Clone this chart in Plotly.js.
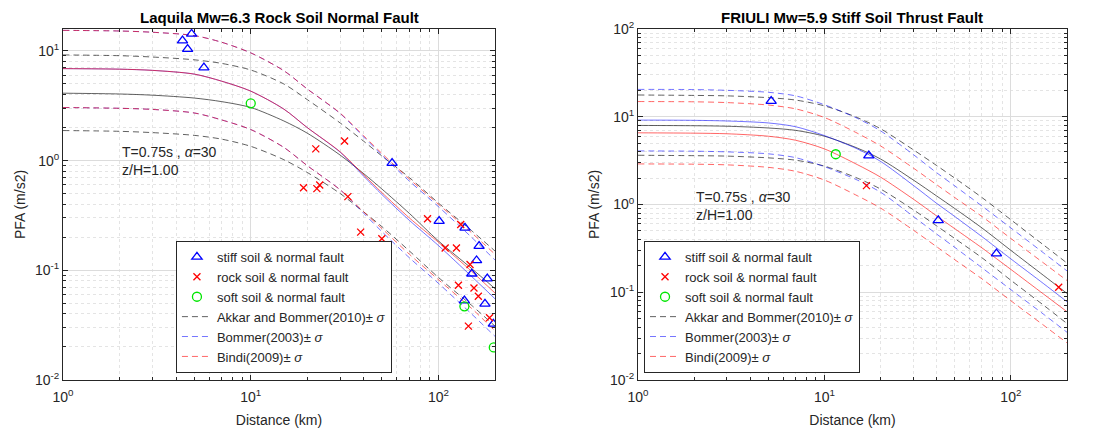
<!DOCTYPE html>
<html>
<head>
<meta charset="utf-8">
<script src="https://cdn.plot.ly/plotly-3.0.1.min.js"></script>
<style>
html,body{margin:0;padding:0;background:#fff;}
#chart{width:1094px;height:434px;}
</style>
</head>
<body>
<div id="chart"></div>
<script>
// ---------- shared ----------
const distance = [1, 2, 3, 5, 7, 10, 15, 20, 30, 40, 50, 70, 100, 150, 200];
const tickValues = [0.01, 0.1, 1, 10, 100];
const tickLabels = ['10<sup>-2</sup>', '10<sup>-1</sup>', '10<sup>0</sup>', '10<sup>1</sup>', '10<sup>2</sup>'];
const legendNames = ['stiff soil & normal fault', 'rock soil & normal fault', 'soft soil & normal fault',
  'Akkar and Bommer(2010)± <i>σ</i>', 'Bommer(2003)± <i>σ</i>', 'Bindi(2009)± <i>σ</i>'];
const titles = ['Laquila Mw=6.3 Rock Soil Normal Fault', 'FRIULI Mw=5.9 Stiff Soil Thrust Fault'];
const noteLine1 = 'T=0.75s , <i>α</i>=30';
const noteLine2 = 'z/H=1.00';

// ---------- Laquila (left) ----------
const aqAkkar      = [4.12, 4.05, 3.95, 3.72, 3.45, 3.05, 2.3, 1.78, 1.12, 0.76, 0.55, 0.33, 0.185, 0.104, 0.068];
const aqAkkarUp    = [9.2, 9.05, 8.8, 8.3, 7.7, 6.7, 5.0, 3.6, 2.2, 1.5, 1.1, 0.7, 0.41, 0.23, 0.15];
const aqAkkarLo    = [1.88, 1.85, 1.8, 1.7, 1.57, 1.35, 1.02, 0.78, 0.5, 0.34, 0.25, 0.15, 0.086, 0.048, 0.031];
const aqBommer     = [6.9, 6.82, 6.65, 6.15, 5.3, 4.3, 2.95, 2.0, 1.19, 0.72, 0.49, 0.285, 0.168, 0.088, 0.055];
const aqBommerUp   = [15.4, 15.2, 14.8, 13.8, 12.0, 9.6, 6.6, 4.5, 2.68, 1.64, 1.12, 0.65, 0.38, 0.2, 0.124];
const aqBommerLo   = [3.05, 3.0, 2.93, 2.72, 2.35, 1.92, 1.32, 0.9, 0.54, 0.33, 0.225, 0.13, 0.076, 0.04, 0.025];
const aqBindi      = [6.9, 6.82, 6.65, 6.15, 5.3, 4.3, 2.95, 2.0, 1.2, 0.74, 0.51, 0.3, 0.18, 0.098, 0.062];
const aqBindiUp    = [15.4, 15.2, 14.8, 13.8, 12.0, 9.6, 6.6, 4.5, 2.7, 1.68, 1.16, 0.68, 0.4, 0.22, 0.14];
const aqBindiLo    = [3.05, 3.0, 2.93, 2.72, 2.35, 1.92, 1.32, 0.9, 0.54, 0.34, 0.24, 0.14, 0.082, 0.045, 0.028];

const aqStiffR   = [4.84, 4.33, 4.61, 5.63, 56.6, 100.8, 138.4, 164.5, 159.5, 150.4, 181.9, 176.8, 137.4, 195.9];
const aqStiffPFA = [14.3, 12.4, 10.4, 7.05, 0.95, 0.281, 0.244, 0.166, 0.123, 0.093, 0.084, 0.0495, 0.053, 0.0325];
const aqRockR    = [22.2, 31.6, 19.1, 22.5, 23.3, 32.9, 38.5, 49.9, 87.4, 108.5, 124.6, 131.3, 147.2, 127.7, 154.5, 163, 144.3, 187];
const aqRockPFA  = [1.28, 1.51, 0.565, 0.556, 0.6, 0.47, 0.223, 0.194, 0.295, 0.16, 0.16, 0.262, 0.113, 0.073, 0.069, 0.058, 0.031, 0.037];
const aqSoftR    = [10, 137.4, 197];
const aqSoftPFA  = [3.33, 0.047, 0.0198];

// ---------- Friuli (right) ----------
const frAkkar      = [7.96, 7.9, 7.8, 7.45, 7.0, 6.0, 4.4, 3.3, 1.9, 1.25, 0.9, 0.54, 0.3, 0.155, 0.097];
const frAkkarUp    = [17.7, 17.5, 17.3, 16.5, 15.5, 13.3, 9.8, 7.3, 4.2, 2.78, 2.0, 1.2, 0.67, 0.345, 0.215];
const frAkkarLo    = [3.64, 3.6, 3.56, 3.4, 3.2, 2.74, 2.0, 1.5, 0.87, 0.57, 0.41, 0.247, 0.137, 0.071, 0.044];
const frBommer     = [9.16, 9.1, 8.95, 8.5, 7.7, 6.1, 4.3, 3.1, 1.65, 1.03, 0.73, 0.43, 0.24, 0.125, 0.078];
const frBommerUp   = [20.5, 20.4, 20.0, 19.0, 17.3, 13.7, 9.6, 6.9, 3.7, 2.3, 1.63, 0.96, 0.54, 0.28, 0.175];
const frBommerLo   = [4.08, 4.05, 3.98, 3.78, 3.42, 2.7, 1.9, 1.38, 0.73, 0.46, 0.325, 0.19, 0.107, 0.056, 0.035];
const frBindi      = [6.56, 6.5, 6.4, 6.0, 5.4, 4.3, 2.85, 2.05, 1.15, 0.74, 0.53, 0.32, 0.182, 0.095, 0.06];
const frBindiUp    = [14.9, 14.8, 14.5, 13.6, 12.3, 9.8, 6.5, 4.65, 2.6, 1.68, 1.2, 0.73, 0.41, 0.215, 0.136];
const frBindiLo    = [2.9, 2.88, 2.83, 2.65, 2.39, 1.9, 1.26, 0.91, 0.51, 0.33, 0.235, 0.142, 0.08, 0.042, 0.0265];

const frStiffR   = [5.18, 17.3, 40.8, 83.7];
const frStiffPFA = [15.1, 3.6, 0.66, 0.276];
const frRockR    = [16.8, 180.5];
const frRockPFA  = [1.64, 0.114];
const frSoftR    = [11.5];
const frSoftPFA  = [3.74];

// ---------- styling ----------
const colAkkar = 'rgba(0,0,0,0.62)';
const colBommer = 'rgba(0,0,255,0.55)';
const colBindi = 'rgba(255,0,0,0.6)';
const dashPat = '6px,4px';
const fontFam = 'Liberation Sans, Arial, sans-serif';

function curve(xa, ya, y, color, dash, name, legend, show, rank) {
  return {
    type: 'scatter', mode: 'lines', x: distance, y: y, xaxis: xa, yaxis: ya,
    line: {color: color, width: 1, dash: dash, shape: 'spline', smoothing: 0.8},
    name: name, legend: legend, showlegend: show, legendrank: rank, hoverinfo: 'skip'
  };
}
function pts(xa, ya, x, y, symbol, color, size, name, legend, rank) {
  return {
    type: 'scatter', mode: 'markers', x: x, y: y, xaxis: xa, yaxis: ya,
    marker: {symbol: symbol, size: size, color: color, line: {color: color, width: 1.3}},
    name: name, legend: legend, showlegend: true, legendrank: rank
  };
}
function panel(xa, ya, lg, m, r) {
  return [
    curve(xa, ya, m.akkarUp, colAkkar, dashPat, legendNames[3], lg, true, 4),
    curve(xa, ya, m.akkarLo, colAkkar, dashPat, legendNames[3], lg, false, 10),
    curve(xa, ya, m.akkar, colAkkar, 'solid', legendNames[3], lg, false, 10),
    curve(xa, ya, m.bommerUp, colBommer, dashPat, legendNames[4], lg, true, 5),
    curve(xa, ya, m.bommerLo, colBommer, dashPat, legendNames[4], lg, false, 10),
    curve(xa, ya, m.bommer, colBommer, 'solid', legendNames[4], lg, false, 10),
    curve(xa, ya, m.bindiUp, colBindi, dashPat, legendNames[5], lg, true, 6),
    curve(xa, ya, m.bindiLo, colBindi, dashPat, legendNames[5], lg, false, 10),
    curve(xa, ya, m.bindi, colBindi, 'solid', legendNames[5], lg, false, 10),
    pts(xa, ya, r.stiffR, r.stiffP, 'triangle-up-open', '#0000ff', 9, legendNames[0], lg, 1),
    pts(xa, ya, r.rockR, r.rockP, 'x-thin-open', '#ff0000', 7, legendNames[1], lg, 2),
    pts(xa, ya, r.softR, r.softP, 'circle-open', '#00e600', 9, legendNames[2], lg, 3)
  ];
}

const data = [].concat(
  panel('x', 'y', 'legend',
    {akkar: aqAkkar, akkarUp: aqAkkarUp, akkarLo: aqAkkarLo, bommer: aqBommer, bommerUp: aqBommerUp, bommerLo: aqBommerLo, bindi: aqBindi, bindiUp: aqBindiUp, bindiLo: aqBindiLo},
    {stiffR: aqStiffR, stiffP: aqStiffPFA, rockR: aqRockR, rockP: aqRockPFA, softR: aqSoftR, softP: aqSoftPFA}),
  panel('x2', 'y2', 'legend2',
    {akkar: frAkkar, akkarUp: frAkkarUp, akkarLo: frAkkarLo, bommer: frBommer, bommerUp: frBommerUp, bommerLo: frBommerLo, bindi: frBindi, bindiUp: frBindiUp, bindiLo: frBindiLo},
    {stiffR: frStiffR, stiffP: frStiffPFA, rockR: frRockR, rockP: frRockPFA, softR: frSoftR, softP: frSoftPFA})
);

const axisColor = '#262626';
function axis(extra) {
  return Object.assign({
    type: 'log', showline: true, linecolor: axisColor, linewidth: 1, mirror: 'allticks',
    ticks: 'inside', ticklen: 5, tickcolor: axisColor, tickwidth: 1,
    tickmode: 'array', tickvals: tickValues, ticktext: tickLabels,
    showgrid: true, gridcolor: '#dcdcdc', gridwidth: 1, zeroline: false,
    minor: {dtick: 'D1', showgrid: true, gridcolor: '#e4e4e4', griddash: 'dot', ticks: 'inside', ticklen: 3, tickcolor: axisColor},
    tickfont: {family: fontFam, size: 14, color: axisColor}
  }, extra);
}

const titleFont = {family: fontFam, size: 15, color: '#000'};
const noteFont = {family: fontFam, size: 14, color: axisColor};
const axTitleFont = {family: fontFam, size: 14, color: axisColor};
const legendStyle = {
  bgcolor: '#ffffff', bordercolor: axisColor, borderwidth: 1,
  font: {family: fontFam, size: 13, color: axisColor},
  xanchor: 'left', yanchor: 'bottom', itemwidth: 30, tracegroupgap: 0
};

const layout = {
  width: 1094, height: 434,
  margin: {l: 63, r: 27, t: 29, b: 54},
  paper_bgcolor: '#ffffff', plot_bgcolor: '#ffffff',
  font: {family: fontFam, size: 12, color: axisColor},
  xaxis: axis({domain: [0, 0.4303], range: [0, Math.log10(200)], anchor: 'y', ticklabelstandoff: 4,
    title: {text: 'Distance (km)', font: axTitleFont, standoff: 11}}),
  yaxis: axis({domain: [0, 1], range: [-2, 1.2], anchor: 'x',
    title: {text: 'PFA (m/s2)', font: axTitleFont, standoff: 6}}),
  xaxis2: axis({domain: [0.5727, 1], range: [0, Math.log10(200)], anchor: 'y2', ticklabelstandoff: 4,
    title: {text: 'Distance (km)', font: axTitleFont, standoff: 11}}),
  yaxis2: axis({domain: [0, 1], range: [-2, 2], anchor: 'x2',
    title: {text: 'PFA (m/s2)', font: axTitleFont, standoff: 6}}),
  legend: Object.assign({x: 0.1125, y: 0.02}, legendStyle),
  legend2: Object.assign({x: 0.5787, y: 0.02}, legendStyle),
  annotations: [
    {text: '<b>' + titles[0] + '</b>', xref: 'x domain', yref: 'y domain', x: 0.5, y: 1, yanchor: 'bottom', yshift: 1, showarrow: false, font: titleFont},
    {text: '<b>' + titles[1] + '</b>', xref: 'x2 domain', yref: 'y2 domain', x: 0.5, y: 1, yanchor: 'bottom', yshift: 1, showarrow: false, font: titleFont},
    {text: noteLine1, xref: 'x domain', yref: 'y domain', x: 0.132, y: 0.65, xanchor: 'left', yanchor: 'middle', showarrow: false, font: noteFont},
    {text: noteLine2, xref: 'x domain', yref: 'y domain', x: 0.132, y: 0.598, xanchor: 'left', yanchor: 'middle', showarrow: false, font: noteFont},
    {text: noteLine1, xref: 'x2 domain', yref: 'y2 domain', x: 0.1305, y: 0.521, xanchor: 'left', yanchor: 'middle', showarrow: false, font: noteFont},
    {text: noteLine2, xref: 'x2 domain', yref: 'y2 domain', x: 0.1305, y: 0.47, xanchor: 'left', yanchor: 'middle', showarrow: false, font: noteFont}
  ]
};

Plotly.newPlot('chart', data, layout, {displayModeBar: false, staticPlot: true});
</script>
</body>
</html>
